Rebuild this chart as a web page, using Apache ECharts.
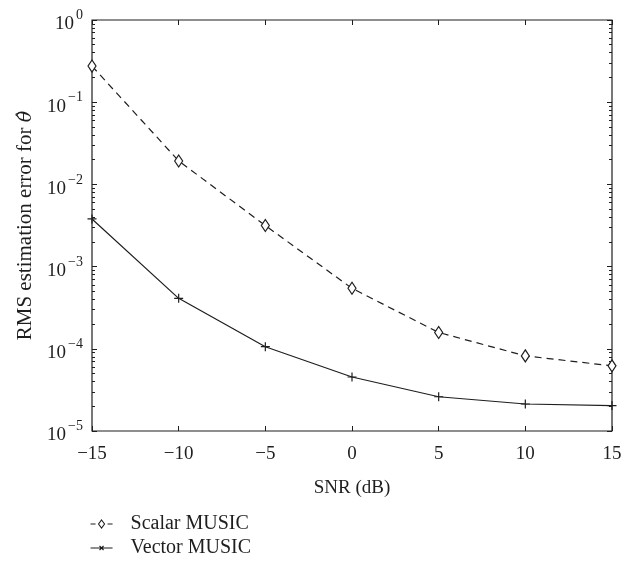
<!DOCTYPE html>
<html>
<head>
<meta charset="utf-8">
<script src="https://cdn.jsdelivr.net/npm/echarts@6/dist/echarts.min.js"></script>
<style>html,body{margin:0;padding:0;background:#fff;}#c{width:635px;height:566px;}</style>
</head>
<body>
<div id="c"></div>
<script>
const snr = [-15, -10, -5, 0, 5, 10, 15];
const scalarMusic = [0.275, 0.0193, 0.00316, 0.000544, 0.000158, 0.000082, 0.000062];
const vectorMusic = [0.0038, 0.000411, 0.000106, 0.0000454, 0.0000261, 0.0000213, 0.0000204];
const xTickLabels = ['−15', '−10', '−5', '0', '5', '10', '15'];
const seriesNames = ['Scalar MUSIC', 'Vector MUSIC'];

const minorLog = [];
for (let d = -5; d < 0; d++) for (let k = 2; k <= 9; k++) minorLog.push(d + Math.log10(k));

const FONT = 'Liberation Serif';
const INK = '#1e1e1e';
const chart = echarts.init(document.getElementById('c'));

function yLabel(v) {
  const e = Math.round(Math.log10(v));
  const s = e < 0 ? '−' + (-e) : String(e);
  return '{b|10}{s|' + s + '}';
}
function xLabel(v) {
  const i = snr.indexOf(v);
  return i >= 0 ? xTickLabels[i] : '';
}

const majorTick = {show: true, inside: true, length: 5, lineStyle: {color: INK, width: 1}};
const minorTickStyle = {show: true, inside: true, length: 3, lineStyle: {color: INK, width: 1}, customValues: minorLog};
const noLine = {show: false, onZero: false};

function legendBox(idx, top, icon) {
  return {
    orient: 'vertical', left: 85, top: top, itemWidth: 22, itemHeight: 10,
    textStyle: {fontFamily: FONT, fontSize: 20, color: INK, padding: [0, 0, 0, 13]},
    data: [{name: seriesNames[idx], icon: icon,
            itemStyle: {color: '#fff', borderColor: INK, borderWidth: 1.1}}]
  };
}

chart.setOption({
  animation: false,
  backgroundColor: '#fff',
  grid: {left: 92, right: 23, top: 20, bottom: 135, show: true, borderColor: INK, borderWidth: 1.2, backgroundColor: 'transparent'},
  xAxis: [
    {type: 'value', min: -15, max: 15, interval: 5, position: 'bottom',
     axisLine: noLine, axisTick: majorTick, splitLine: {show: false},
     axisLabel: {formatter: xLabel, fontFamily: FONT, fontSize: 19, color: INK, margin: 14},
     name: 'SNR (dB)', nameLocation: 'middle', nameGap: 48,
     nameTextStyle: {fontFamily: FONT, fontSize: 19, color: INK}},
    {type: 'value', min: -15, max: 15, interval: 5, position: 'top',
     axisLine: noLine, axisTick: majorTick, splitLine: {show: false}, axisLabel: {show: false}}
  ],
  yAxis: [
    {type: 'log', min: 1e-5, max: 1, logBase: 10, position: 'left',
     axisLine: noLine, axisTick: majorTick, splitLine: {show: false},
     axisLabel: {formatter: yLabel, margin: 9, color: INK,
       rich: {b: {fontFamily: FONT, fontSize: 19, color: INK, padding: [9, 2, 0, 0]},
              s: {fontFamily: FONT, fontSize: 14, color: INK, padding: [0, 0, 9, 0]}}},
     name: 'RMS estimation error for {i|θ̂}', nameLocation: 'middle', nameGap: 44, nameRotate: 90,
     nameTextStyle: {fontFamily: FONT, fontSize: 21, color: INK,
       rich: {i: {fontFamily: 'DejaVu Serif', fontStyle: 'italic', fontSize: 19, color: INK}}}},
    {type: 'value', min: -5, max: 0, position: 'left',
     axisLine: noLine, axisTick: minorTickStyle, splitLine: {show: false}, axisLabel: {show: false}},
    {type: 'log', min: 1e-5, max: 1, logBase: 10, position: 'right',
     axisLine: noLine, axisTick: majorTick, splitLine: {show: false}, axisLabel: {show: false}},
    {type: 'value', min: -5, max: 0, position: 'right',
     axisLine: noLine, axisTick: minorTickStyle, splitLine: {show: false}, axisLabel: {show: false}}
  ],
  legend: [
    legendBox(0, 509, 'path://M0,5L5,5M17,5L22,5M11,1L14,5L11,9L8,5Z'),
    legendBox(1, 533, 'path://M0,0L0,0M22,10L22,10M0,5L22,5M9,3L13,7M13,3L9,7')
  ],
  series: [
    {name: seriesNames[0], type: 'line', xAxisIndex: 0, yAxisIndex: 0,
     data: snr.map((x, i) => [x, scalarMusic[i]]),
     symbol: 'diamond', symbolSize: [8, 12],
     lineStyle: {color: INK, width: 1.2, type: [7, 5]},
     itemStyle: {color: '#fff', borderColor: INK, borderWidth: 1.2}, z: 3},
    {name: seriesNames[1], type: 'line', xAxisIndex: 0, yAxisIndex: 0,
     data: snr.map((x, i) => [x, vectorMusic[i]]),
     symbol: 'path://M0,5L10,5M5,0L5,10', symbolSize: 9,
     lineStyle: {color: INK, width: 1.2},
     itemStyle: {color: '#fff', borderColor: INK, borderWidth: 1.2}, z: 3}
  ]
});
</script>
</body>
</html>
